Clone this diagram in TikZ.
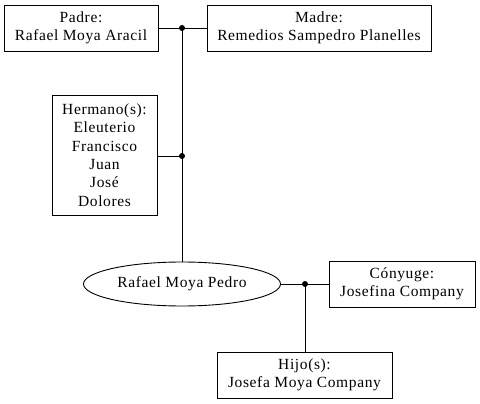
\documentclass[tikz,border=0pt]{standalone}
\usepackage{fontspec}
\setmainfont{Liberation Serif}[LetterSpace=4]
\usetikzlibrary{shapes.geometric}
\begin{document}
\begin{tikzpicture}[x=1pt,y=-1pt,
  every node/.style={font=\fontsize{15.5}{18.3}\selectfont, align=center, inner sep=0pt, line width=0.9pt},
  pbox/.style={draw, rectangle},
  pell/.style={draw, ellipse},
  conn/.style={line width=0.9pt},
  jdot/.style={circle, fill, draw=none, inner sep=0pt, minimum size=6pt}]
\useasboundingbox (0,0) rectangle (480,404);
\node[pbox, minimum width=154pt, minimum height=46pt] (padre) at (81,28) {Padre:\\Rafael Moya Aracil};
\node[pbox, minimum width=224pt, minimum height=46pt] (madre) at (319,28) {Madre:\\Remedios Sampedro Planelles};
\node[pbox, minimum width=105pt, minimum height=120pt] (herm) at (104.5,155) {Hermano(s):\\Eleuterio\\Francisco\\Juan\\José\\Dolores};
\node[pell, minimum width=197pt, minimum height=44pt] (ego) at (182,284) {Rafael Moya Pedro};
\node[pbox, minimum width=146pt, minimum height=46pt] (cony) at (402,284) {Cónyuge:\\Josefina Company};
\node[pbox, minimum width=175pt, minimum height=46pt] (hijo) at (304.5,375) {Hijo(s):\\Josefa Moya Company};
\node[jdot] (j1) at (182,28) {};
\node[jdot] (j2) at (182,156) {};
\node[jdot] (j3) at (305,284) {};
\draw[conn] (padre.east) -- (madre.west);
\draw[conn] (j1.center) -- (ego.north);
\draw[conn] (herm.east |- j2) -- (j2.center);
\draw[conn] (ego.east) -- (cony.west);
\draw[conn] (j3.center) -- (j3 |- hijo.north);
\end{tikzpicture}
\end{document}
